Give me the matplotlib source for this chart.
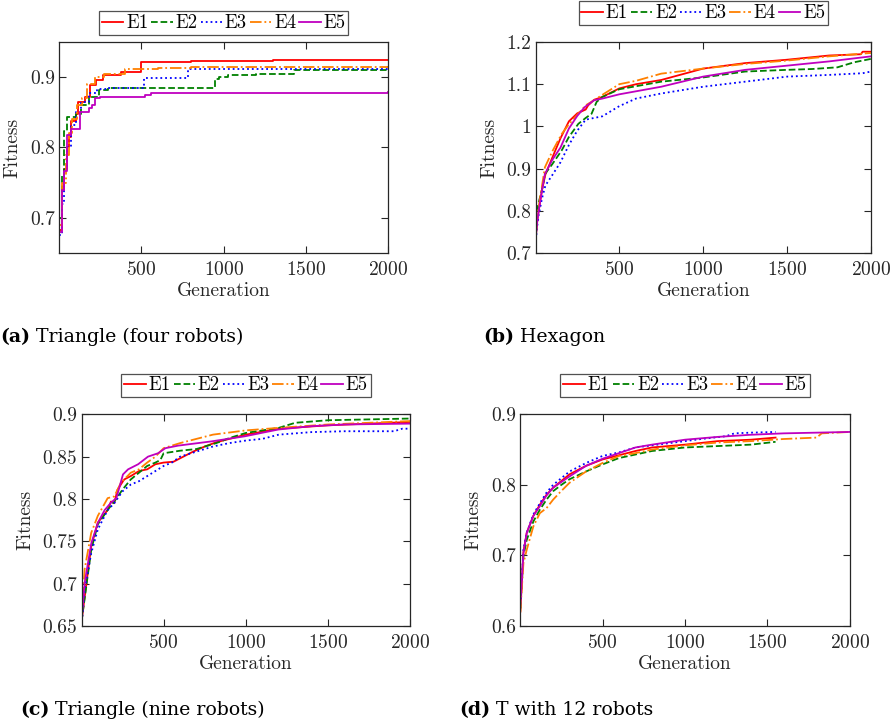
import matplotlib
matplotlib.use("Agg")
import matplotlib.pyplot as plt
from matplotlib.ticker import FuncFormatter

plt.rcParams['font.family'] = ['cmr10', 'DejaVu Serif']
plt.rcParams['axes.formatter.use_mathtext'] = True
plt.rcParams['mathtext.fontset'] = 'cm'

labels = ['E1', 'E2', 'E3', 'E4', 'E5']
colors = ['#ff0000', '#008000', '#0000ff', '#ff8000', '#bf00bf']
styles = ['-', '--', ':', '-.', '-']

# (a) Triangle (four robots) - step curves
a_e1_gen = [1, 15, 30, 45, 60, 75, 100, 115, 156, 186, 227, 267, 378, 496, 800, 1300, 2000]
a_e1_fit = [0.683, 0.74, 0.77, 0.80, 0.815, 0.837, 0.848, 0.865, 0.872, 0.889, 0.896, 0.903, 0.907, 0.921, 0.923, 0.924, 0.925]
a_e2_gen = [1, 15, 30, 50, 100, 130, 180, 240, 300, 600, 945, 975, 1026, 1200, 1430, 2000]
a_e2_fit = [0.70, 0.76, 0.823, 0.844, 0.848, 0.86, 0.872, 0.882, 0.884, 0.885, 0.897, 0.90, 0.903, 0.905, 0.910, 0.911]
a_e3_gen = [1, 15, 30, 50, 70, 100, 130, 180, 230, 300, 516, 783, 2000]
a_e3_fit = [0.675, 0.72, 0.77, 0.80, 0.832, 0.851, 0.865, 0.877, 0.883, 0.884, 0.899, 0.911, 0.911]
a_e4_gen = [1, 20, 40, 60, 80, 110, 140, 170, 220, 270, 400, 600, 800, 2000]
a_e4_fit = [0.69, 0.75, 0.79, 0.82, 0.84, 0.86, 0.87, 0.89, 0.90, 0.905, 0.911, 0.913, 0.915, 0.916]
a_e5_gen = [1, 20, 30, 50, 70, 125, 180, 200, 220, 250, 520, 560, 2000]
a_e5_fit = [0.68, 0.74, 0.766, 0.818, 0.827, 0.85, 0.856, 0.86, 0.87, 0.872, 0.875, 0.878, 0.879]

# (b) Hexagon
b_e1_gen = [1, 10, 20, 40, 60, 100, 150, 200, 250, 300, 315, 350, 400, 500, 600, 750, 1000, 1250, 1500, 1750, 1940, 1950, 2000]
b_e1_fit = [0.73, 0.77, 0.80, 0.85, 0.886, 0.925, 0.972, 1.012, 1.031, 1.040, 1.05, 1.063, 1.07, 1.09, 1.10, 1.11, 1.137, 1.15, 1.158, 1.168, 1.171, 1.177, 1.177]
b_e2_gen = [1, 10, 20, 40, 57, 100, 157, 200, 256, 300, 335, 365, 400, 500, 750, 1000, 1250, 1500, 1650, 1800, 1900, 2000]
b_e2_fit = [0.73, 0.80, 0.82, 0.85, 0.887, 0.91, 0.943, 0.975, 1.006, 1.02, 1.03, 1.058, 1.07, 1.088, 1.106, 1.116, 1.13, 1.134, 1.136, 1.14, 1.152, 1.16]
b_e3_gen = [1, 10, 20, 40, 60, 100, 150, 200, 250, 300, 400, 500, 600, 750, 1000, 1250, 1500, 1750, 1950, 2000]
b_e3_fit = [0.72, 0.76, 0.79, 0.83, 0.86, 0.884, 0.915, 0.956, 0.99, 1.016, 1.024, 1.048, 1.066, 1.078, 1.094, 1.106, 1.118, 1.122, 1.126, 1.13]
b_e4_gen = [1, 10, 20, 40, 57, 100, 157, 200, 256, 300, 350, 400, 500, 600, 750, 1000, 1250, 1500, 1750, 2000]
b_e4_fit = [0.72, 0.78, 0.81, 0.86, 0.903, 0.94, 0.982, 1.005, 1.03, 1.05, 1.062, 1.075, 1.10, 1.108, 1.125, 1.137, 1.148, 1.156, 1.166, 1.174]
b_e5_gen = [1, 10, 20, 40, 57, 100, 150, 200, 250, 295, 350, 400, 500, 750, 1000, 1250, 1500, 1750, 2000]
b_e5_fit = [0.73, 0.77, 0.80, 0.85, 0.887, 0.92, 0.95, 0.995, 1.025, 1.046, 1.062, 1.066, 1.076, 1.094, 1.118, 1.134, 1.144, 1.154, 1.166]

# (c) Triangle (nine robots)
c_e1_gen = [1, 60, 100, 160, 180, 200, 220, 260, 300, 350, 400, 450, 500, 560, 620, 680, 750, 820, 1000, 1200, 1500, 2000]
c_e1_fit = [0.655, 0.744, 0.772, 0.787, 0.797, 0.795, 0.811, 0.823, 0.827, 0.833, 0.835, 0.841, 0.843, 0.844, 0.85, 0.856, 0.862, 0.867, 0.876, 0.883, 0.887, 0.891]
c_e2_gen = [1, 60, 100, 160, 200, 250, 300, 350, 400, 450, 480, 500, 600, 700, 820, 900, 1000, 1200, 1300, 1500, 2000]
c_e2_fit = [0.655, 0.74, 0.77, 0.787, 0.797, 0.811, 0.823, 0.831, 0.839, 0.843, 0.846, 0.854, 0.857, 0.859, 0.866, 0.872, 0.878, 0.884, 0.89, 0.893, 0.895]
c_e3_gen = [1, 20, 60, 100, 160, 200, 250, 300, 350, 400, 450, 500, 550, 600, 700, 800, 900, 1000, 1100, 1200, 1400, 1600, 1900, 1950, 2000]
c_e3_fit = [0.65, 0.693, 0.736, 0.764, 0.787, 0.795, 0.809, 0.817, 0.821, 0.827, 0.833, 0.839, 0.843, 0.85, 0.856, 0.862, 0.866, 0.869, 0.871, 0.876, 0.879, 0.88, 0.88, 0.883, 0.883]
c_e4_gen = [1, 20, 60, 100, 160, 200, 240, 300, 350, 400, 450, 500, 600, 700, 800, 1000, 1200, 1500, 2000]
c_e4_fit = [0.66, 0.717, 0.76, 0.78, 0.801, 0.803, 0.819, 0.831, 0.835, 0.843, 0.85, 0.86, 0.866, 0.871, 0.876, 0.881, 0.884, 0.888, 0.892]
c_e5_gen = [1, 20, 61, 101, 142, 182, 213, 233, 253, 284, 345, 405, 466, 511, 588, 790, 993, 1196, 1399, 1601, 2000]
c_e5_fit = [0.655, 0.701, 0.748, 0.772, 0.787, 0.796, 0.801, 0.815, 0.829, 0.835, 0.841, 0.85, 0.854, 0.86, 0.863, 0.868, 0.874, 0.882, 0.886, 0.888, 0.889]

# (d) T with 12 robots
d_e1_gen = [1, 20, 40, 80, 120, 160, 200, 300, 400, 500, 600, 700, 800, 1000, 1200, 1400, 1550]
d_e1_fit = [0.62, 0.705, 0.732, 0.756, 0.772, 0.786, 0.796, 0.815, 0.827, 0.836, 0.842, 0.848, 0.853, 0.857, 0.862, 0.864, 0.867]
d_e2_gen = [1, 20, 40, 80, 120, 160, 200, 250, 300, 400, 500, 600, 700, 800, 1000, 1200, 1400, 1550]
d_e2_fit = [0.625, 0.699, 0.722, 0.748, 0.765, 0.779, 0.791, 0.80, 0.808, 0.819, 0.829, 0.838, 0.843, 0.848, 0.853, 0.855, 0.857, 0.861]
d_e3_gen = [1, 20, 40, 80, 120, 160, 200, 300, 400, 500, 600, 700, 800, 1000, 1100, 1250, 1300, 1400, 1550]
d_e3_fit = [0.625, 0.708, 0.732, 0.758, 0.774, 0.789, 0.80, 0.819, 0.831, 0.841, 0.846, 0.853, 0.856, 0.862, 0.865, 0.869, 0.873, 0.874, 0.875]
d_e4_gen = [1, 20, 40, 80, 120, 160, 200, 240, 300, 400, 500, 600, 700, 800, 1000, 1200, 1400, 1600, 1800, 1830, 2000]
d_e4_fit = [0.62, 0.689, 0.708, 0.741, 0.76, 0.767, 0.779, 0.789, 0.803, 0.819, 0.831, 0.841, 0.845, 0.85, 0.856, 0.86, 0.862, 0.865, 0.867, 0.873, 0.875]
d_e5_gen = [1, 20, 40, 80, 120, 160, 200, 300, 400, 500, 600, 700, 800, 1000, 1200, 1400, 1600, 2000]
d_e5_fit = [0.63, 0.703, 0.732, 0.756, 0.77, 0.785, 0.796, 0.812, 0.827, 0.837, 0.845, 0.853, 0.857, 0.864, 0.868, 0.871, 0.873, 0.875]

W, H = 891, 723
fig = plt.figure(figsize=(W / 100, H / 100), dpi=100)
dark = '#262626'


def panel(left, top, right, bottom, gens, fits, ylim, yticks, steps, leg_gap):
    ax = fig.add_axes([left / W, 1 - bottom / H, (right - left) / W, (bottom - top) / H])
    for g, f, c, ls, lab in zip(gens, fits, colors, styles, labels):
        ax.plot(g, f, color=c, ls=ls, lw=1.3, label=lab,
                drawstyle='steps-post' if steps else 'default')
    ax.set_xlim(1, 2000)
    ax.set_ylim(*ylim)
    ax.set_xticks([500, 1000, 1500, 2000])
    ax.set_yticks(yticks)
    ax.yaxis.set_major_formatter(FuncFormatter(lambda v, p: f'{v:g}'))
    ax.tick_params(direction='in', top=True, right=True, length=5, width=0.8,
                   labelsize=14, colors=dark)
    ax.tick_params(axis='x', pad=6)
    ax.tick_params(axis='y', pad=3)
    for s in ax.spines.values():
        s.set_color(dark)
        s.set_linewidth(0.9)
    ax.set_xlabel('Generation', fontsize=14, color=dark, labelpad=2)
    ax.set_ylabel('Fitness', fontsize=14, color=dark, labelpad=6)
    leg = ax.legend(ncol=5, loc='lower center',
                    bbox_to_anchor=(0.5, 1 + leg_gap / (bottom - top)),
                    frameon=True, fancybox=False, edgecolor=dark, fontsize=13.5,
                    handlelength=1.15, handletextpad=0.15, columnspacing=0.15,
                    borderpad=0.15, borderaxespad=0)
    leg.get_frame().set_linewidth(0.9)
    return ax


panel(59.3, 42, 388, 253,
      [a_e1_gen, a_e2_gen, a_e3_gen, a_e4_gen, a_e5_gen],
      [a_e1_fit, a_e2_fit, a_e3_fit, a_e4_fit, a_e5_fit],
      (0.65, 0.95), [0.7, 0.8, 0.9], True, 7)
panel(535.5, 42, 871, 253,
      [b_e1_gen, b_e2_gen, b_e3_gen, b_e4_gen, b_e5_gen],
      [b_e1_fit, b_e2_fit, b_e3_fit, b_e4_fit, b_e5_fit],
      (0.7, 1.2), [0.7, 0.8, 0.9, 1.0, 1.1, 1.2], False, 17)
panel(81.5, 414.3, 410.5, 626,
      [c_e1_gen, c_e2_gen, c_e3_gen, c_e4_gen, c_e5_gen],
      [c_e1_fit, c_e2_fit, c_e3_fit, c_e4_fit, c_e5_fit],
      (0.65, 0.9), [0.65, 0.7, 0.75, 0.8, 0.85, 0.9], False, 17)
panel(520.3, 414.3, 849.7, 626,
      [d_e1_gen, d_e2_gen, d_e3_gen, d_e4_gen, d_e5_gen],
      [d_e1_fit, d_e2_fit, d_e3_fit, d_e4_fit, d_e5_fit],
      (0.6, 0.9), [0.6, 0.7, 0.8, 0.9], False, 17)

# sub-captions: bold tag followed by normal text
captions = [(0, 342, '(a)', 'Triangle (four robots)'),
            (483, 342, '(b)', 'Hexagon'),
            (20, 715, '(c)', 'Triangle (nine robots)'),
            (459, 715, '(d)', 'T with 12 robots')]
renderer = fig.canvas.get_renderer()
for x, y, tag, txt in captions:
    t = fig.text(x / W, 1 - y / H, tag, fontsize=13.6, fontweight='bold',
                 family='DejaVu Serif', va='baseline', ha='left')
    bb = t.get_window_extent(renderer)
    fig.text(bb.x1 / W, 1 - y / H, ' ' + txt, fontsize=13.6,
             family='DejaVu Serif', va='baseline', ha='left')

fig.savefig('out.png', dpi=100)
